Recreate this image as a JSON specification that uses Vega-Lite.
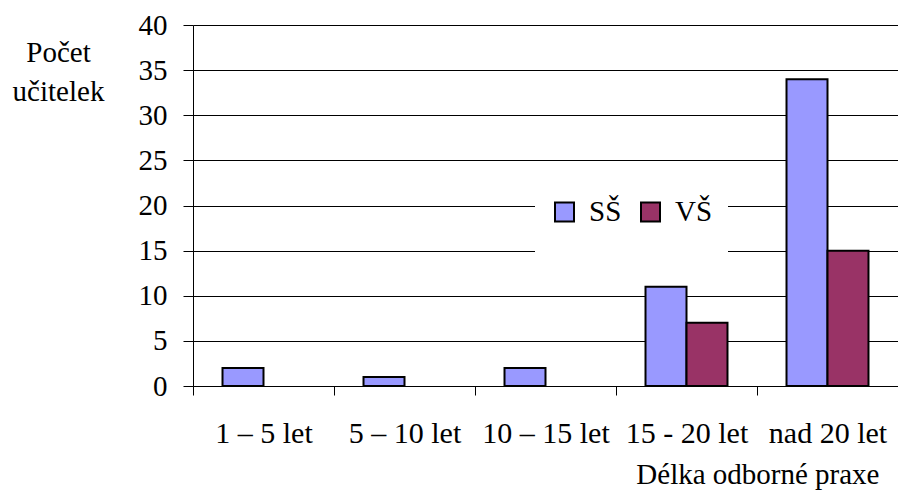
{
  "$schema": "https://vega.github.io/schema/vega-lite/v6.json",
  "autosize": "none",
  "width": 705,
  "height": 361,
  "padding": {"left": 193, "top": 25, "right": 0, "bottom": 105},
  "background": "white",
  "config": {
    "view": {"stroke": null},
    "font": "Liberation Serif"
  },
  "data": {
    "values": [
      {"praxe": "1 – 5 let", "vzdelani": "SŠ", "pocet": 2},
      {"praxe": "1 – 5 let", "vzdelani": "VŠ", "pocet": 0},
      {"praxe": "5 – 10 let", "vzdelani": "SŠ", "pocet": 1},
      {"praxe": "5 – 10 let", "vzdelani": "VŠ", "pocet": 0},
      {"praxe": "10 – 15 let", "vzdelani": "SŠ", "pocet": 2},
      {"praxe": "10 – 15 let", "vzdelani": "VŠ", "pocet": 0},
      {"praxe": "15 - 20 let", "vzdelani": "SŠ", "pocet": 11},
      {"praxe": "15 - 20 let", "vzdelani": "VŠ", "pocet": 7},
      {"praxe": "nad 20 let", "vzdelani": "SŠ", "pocet": 34},
      {"praxe": "nad 20 let", "vzdelani": "VŠ", "pocet": 15}
    ]
  },
  "transform": [{"filter": "datum.pocet > 0"}],
  "mark": {"type": "bar", "stroke": "black", "strokeWidth": 2},
  "encoding": {
    "x": {
      "field": "praxe",
      "type": "nominal",
      "sort": ["1 – 5 let", "5 – 10 let", "10 – 15 let", "15 - 20 let", "nad 20 let"],
      "scale": {"paddingInner": 0, "paddingOuter": 0},
      "axis": {
        "title": "Délka odborné praxe",
        "titleFont": "Liberation Serif",
        "titleFontSize": 29,
        "titleFontWeight": "normal",
        "titleColor": "black",
        "titleAnchor": "end",
        "titleAlign": "right",
        "titleBaseline": "alphabetic",
        "titleX": 686,
        "titleY": 97,
        "labelAngle": 0,
        "labelFont": "Liberation Serif",
        "labelFontSize": 30,
        "labelColor": "black",
        "labelPadding": 23,
        "labelOverlap": false,
        "labelLimit": 300,
        "tickBand": "extent",
        "tickSize": 9,
        "tickColor": "black",
        "domainColor": "black",
        "grid": false
      }
    },
    "xOffset": {
      "field": "vzdelani",
      "type": "nominal",
      "scale": {"domain": ["SŠ", "VŠ"], "paddingInner": 0, "paddingOuter": 0.72}
    },
    "y": {
      "field": "pocet",
      "type": "quantitative",
      "scale": {"domain": [0, 40], "nice": false},
      "axis": {
        "values": [0, 5, 10, 15, 20, 25, 30, 35, 40],
        "title": ["Počet", "učitelek"],
        "titleAngle": 0,
        "titleFont": "Liberation Serif",
        "titleFontSize": 29,
        "titleFontWeight": "normal",
        "titleColor": "black",
        "titleAlign": "center",
        "titleBaseline": "alphabetic",
        "titleLineHeight": 39,
        "titleX": -135,
        "titleY": 36,
        "labelFont": "Liberation Serif",
        "labelFontSize": 29,
        "labelColor": "black",
        "labelPadding": 16,
        "tickSize": 10,
        "tickColor": "black",
        "domainColor": "black",
        "grid": true,
        "gridColor": "black",
        "gridWidth": 1
      }
    },
    "fill": {
      "field": "vzdelani",
      "type": "nominal",
      "scale": {"domain": ["SŠ", "VŠ"], "range": ["#9999FF", "#993366"]},
      "legend": {
        "title": null,
        "orient": "none",
        "direction": "horizontal",
        "legendX": 342,
        "legendY": 147,
        "fillColor": "white",
        "padding": 15,
        "clipHeight": 50,
        "symbolType": "square",
        "symbolSize": 361,
        "symbolStrokeColor": "black",
        "symbolStrokeWidth": 2,
        "symbolOpacity": 1,
        "labelFont": "Liberation Serif",
        "labelFontSize": 29,
        "labelColor": "black",
        "labelOffset": 10,
        "columnPadding": 14
      }
    }
  }
}
